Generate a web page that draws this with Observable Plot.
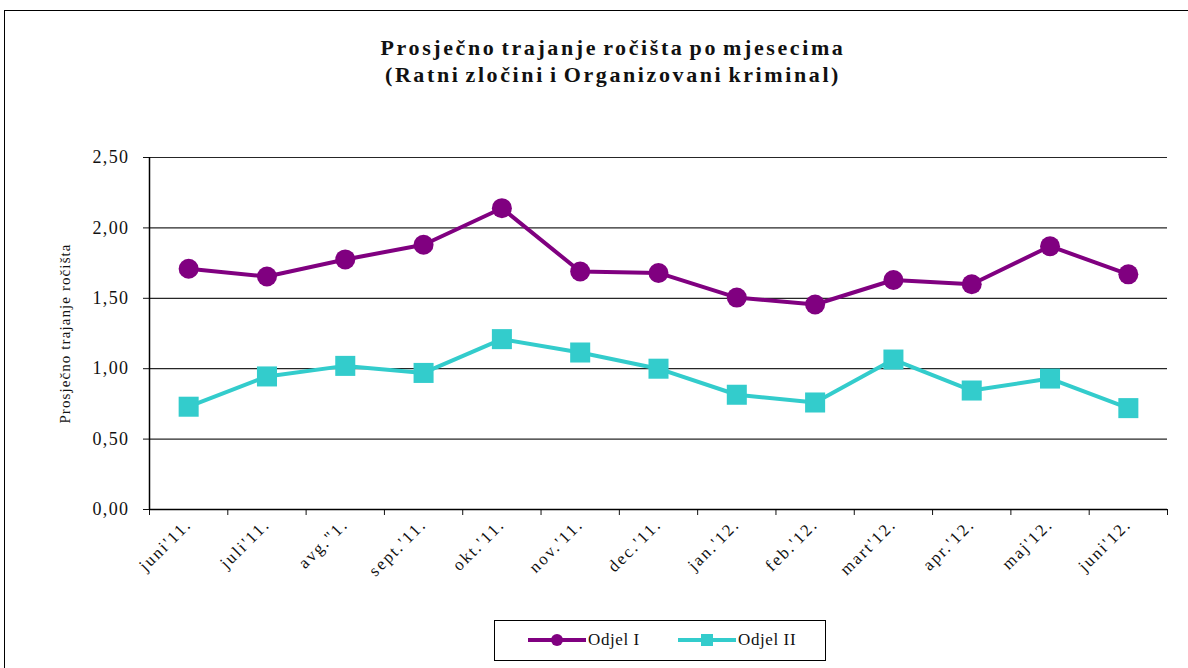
<!DOCTYPE html>
<html>
<head>
<meta charset="utf-8">
<script src="https://cdn.jsdelivr.net/npm/d3@7"></script>
<script src="https://cdn.jsdelivr.net/npm/@observablehq/plot@0.6"></script>
<style>
  html, body { margin: 0; padding: 0; background: #fff; width: 1188px; height: 668px; overflow: hidden; }
  #frame { position: absolute; left: 4px; top: 10px; width: 1200px; height: 670px; border: 1px solid #000; box-sizing: border-box; }
  #title { position: absolute; left: 0; width: 1226px; top: 34px; text-align: center; font-family: "Liberation Serif", serif; font-weight: bold; font-size: 22px; line-height: 27px; color: #111; letter-spacing: 2.6px; word-spacing: -3px; }
  #chart { position: absolute; left: 0; top: 0; }
  #chart svg g[aria-label="y-axis tick label"] text { font-size: 18px; letter-spacing: 1.4px; }
  #chart svg g[aria-label="x-axis tick label"] text { font-size: 17px; letter-spacing: 2px; }
  #chart svg g[aria-label="y-axis label"] text { font-size: 15px; letter-spacing: 1.1px; }
  #legend { position: absolute; left: 494px; top: 620px; width: 332px; height: 41px; border: 1px solid #000; box-sizing: border-box; font-family: "Liberation Serif", serif; font-size: 17px; letter-spacing: 0.6px; color: #111; }
  .item { display: flex; align-items: center; position: absolute; top: 8px; }
</style>
</head>
<body>
<div id="frame"></div>
<div id="title">Prosječno trajanje ročišta po mjesecima<br>(Ratni zločini i Organizovani kriminal)</div>
<div id="chart"></div>
<div id="legend">
  <div class="item" style="left:31px"><svg width="62" height="22"><line x1="2" y1="11" x2="60" y2="11" stroke="#800080" stroke-width="4"/><circle cx="31" cy="11" r="6" fill="#800080"/></svg><span>Odjel I</span></div>
  <div class="item" style="left:181px"><svg width="62" height="22"><line x1="2" y1="11" x2="60" y2="11" stroke="#33CCCC" stroke-width="4"/><rect x="25" y="5" width="12" height="12" fill="#33CCCC"/></svg><span>Odjel II</span></div>
</div>
<script>
const months = ["juni'11.", "juli'11.", "avg.\"1.", "sept.'11.", "okt.'11.", "nov.'11.", "dec.'11.", "jan.'12.", "feb.'12.", "mart'12.", "apr.'12.", "maj'12.", "juni'12."];
const odjel1 = [1.71, 1.655, 1.776, 1.88, 2.14, 1.69, 1.68, 1.505, 1.456, 1.63, 1.60, 1.87, 1.67];
const odjel2 = [0.73, 0.945, 1.02, 0.97, 1.21, 1.115, 1.00, 0.815, 0.76, 1.065, 0.845, 0.93, 0.72];
const yTicks = [0, 0.5, 1, 1.5, 2, 2.5];

const d1 = months.map((m, i) => ({i, m, v: odjel1[i]}));
const d2 = months.map((m, i) => ({i, m, v: odjel2[i]}));
const idx = months.map((m, i) => i);
const bounds = d3.range(months.length + 1).map(i => i - 0.5);
const fmt = d => d.toFixed(2).replace(".", ",");

const plot = Plot.plot({
  width: 1188,
  height: 600,
  marginLeft: 149,
  marginRight: 21,
  marginTop: 157,
  marginBottom: 91,
  style: {fontFamily: "'Liberation Serif', serif", fontSize: "15px", color: "#111", background: "transparent"},
  x: {type: "linear", domain: [-0.5, months.length - 0.5]},
  y: {domain: [0, 2.5]},
  marks: [
    Plot.ruleY(yTicks.filter(t => t > 0), {stroke: "#000", strokeWidth: 1.2, strokeOpacity: 0.85}),
    Plot.axisY({ticks: yTicks, tickFormat: fmt, tickSize: 6, tickPadding: 14,
      label: "Prosječno trajanje ročišta", labelAnchor: "center", labelOffset: 90, labelArrow: "none"}),
    Plot.axisX({ticks: bounds, tickFormat: () => "", tickSize: 6, label: null}),
    Plot.axisX({ticks: idx, tickFormat: i => months[i], tickSize: 0, tickPadding: 12, tickRotate: -45, label: null}),
    Plot.ruleX([-0.5], {stroke: "#000", strokeWidth: 1.5}),
    Plot.ruleY([0], {stroke: "#000", strokeWidth: 1.5}),
    Plot.line(d1, {x: "i", y: "v", stroke: "#800080", strokeWidth: 4}),
    Plot.dot(d1, {x: "i", y: "v", fill: "#800080", r: 10, symbol: "circle"}),
    Plot.line(d2, {x: "i", y: "v", stroke: "#33CCCC", strokeWidth: 4}),
    Plot.dot(d2, {x: "i", y: "v", fill: "#33CCCC", r: 11.3, symbol: "square"})
  ]
});
document.getElementById("chart").appendChild(plot);
</script>
</body>
</html>
